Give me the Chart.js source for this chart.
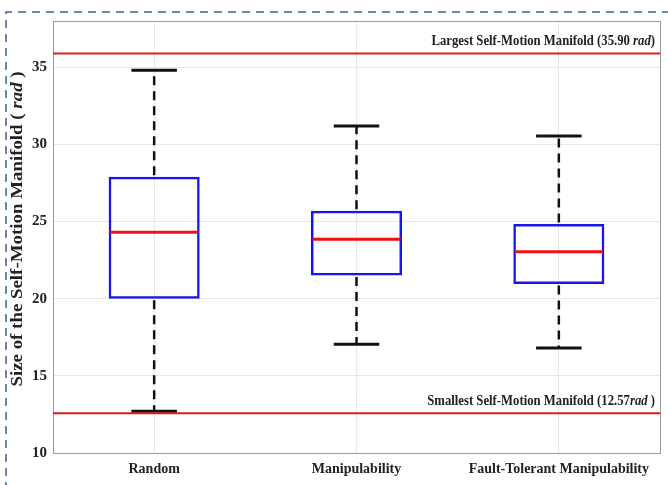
<!DOCTYPE html>
<html>
<head>
<meta charset="utf-8">
<script src="https://cdn.jsdelivr.net/npm/chart.js@4.4.0/dist/chart.umd.min.js"></script>
<style>
  html, body { margin: 0; padding: 0; background: #fff; }
  #wrap { width: 668px; height: 485px; }
</style>
</head>
<body>
<div id="wrap"><canvas id="boxChart" width="668" height="485"></canvas></div>
<script>
// box plot data
const categories = ['Random', 'Manipulability', 'Fault-Tolerant Manipulability'];
const whiskerLow = [12.7, 17.05, 16.8];
const q1 = [20.0, 21.5, 20.95];
const medians = [24.3, 23.85, 23.05];
const q3 = [27.9, 25.7, 24.85];
const whiskerHigh = [34.8, 31.2, 30.55];
const yTicks = [10, 15, 20, 25, 30, 35];
const largestSize = 35.90;
const smallestSize = 12.57;

const serif = '"Liberation Serif", "Times New Roman", serif';

// draws text made of [string, italic] parts, squeezed horizontally
function drawParts(ctx, parts, x, y, size, squeeze, align) {
  let w = 0;
  parts.forEach(p => {
    ctx.font = (p[1] ? 'italic ' : '') + 'bold ' + size + 'px ' + serif;
    w += ctx.measureText(p[0]).width;
  });
  let start = align === 'right' ? x - w * squeeze : x - w * squeeze / 2;
  ctx.save();
  ctx.translate(start, y);
  ctx.scale(squeeze, 1);
  let cx = 0;
  parts.forEach(p => {
    ctx.font = (p[1] ? 'italic ' : '') + 'bold ' + size + 'px ' + serif;
    ctx.fillText(p[0], cx, 0);
    cx += ctx.measureText(p[0]).width;
  });
  ctx.restore();
}

const boxExtras = {
  id: 'boxExtras',
  beforeDraw(chart) {
    const ctx = chart.ctx;
    ctx.save();
    ctx.fillStyle = '#fff';
    ctx.fillRect(0, 0, chart.width, chart.height);
    ctx.restore();
  },
  afterDraw(chart) {
    const ctx = chart.ctx;
    const area = chart.chartArea;
    const y = chart.scales.y;
    const meta = chart.getDatasetMeta(0);

    // frame
    ctx.save();
    ctx.strokeStyle = '#9a9a9a';
    ctx.lineWidth = 1;
    ctx.strokeRect(area.left + 0.5, area.top + 0.5, area.right - area.left, area.bottom - area.top);
    ctx.restore();

    // whiskers, caps and medians
    meta.data.forEach((bar, i) => {
      const x = bar.x;
      const capHalf = bar.width * 0.25;
      ctx.save();
      ctx.strokeStyle = '#111';
      ctx.lineWidth = 2.5;
      ctx.setLineDash([9, 6]);
      ctx.beginPath();
      ctx.moveTo(x, y.getPixelForValue(q3[i]) - 1.5);
      ctx.lineTo(x, y.getPixelForValue(whiskerHigh[i]));
      ctx.moveTo(x, y.getPixelForValue(q1[i]) + 1.5);
      ctx.lineTo(x, y.getPixelForValue(whiskerLow[i]));
      ctx.stroke();
      ctx.setLineDash([]);
      ctx.lineWidth = 3;
      ctx.beginPath();
      [whiskerHigh[i], whiskerLow[i]].forEach(v => {
        const py = y.getPixelForValue(v);
        ctx.moveTo(x - capHalf, py);
        ctx.lineTo(x + capHalf, py);
      });
      ctx.stroke();
      ctx.strokeStyle = '#f01010';
      ctx.beginPath();
      const my = y.getPixelForValue(medians[i]);
      ctx.moveTo(x - bar.width / 2 + 1.5, my);
      ctx.lineTo(x + bar.width / 2 - 1.5, my);
      ctx.stroke();
      ctx.restore();
    });

    // reference lines for the largest and smallest manifold
    ctx.save();
    ctx.strokeStyle = '#e41a1a';
    ctx.lineWidth = 2;
    ctx.beginPath();
    [largestSize, smallestSize].forEach(v => {
      const py = y.getPixelForValue(v);
      ctx.moveTo(area.left, py);
      ctx.lineTo(area.right, py);
    });
    ctx.stroke();
    ctx.fillStyle = '#222';
    ctx.textBaseline = 'alphabetic';
    drawParts(ctx, [['Largest Self-Motion Manifold (' + largestSize.toFixed(2) + ' ', false], ['rad', true], [')', false]],
      area.right - 5, y.getPixelForValue(largestSize) - 8, 15.5, 0.82, 'right');
    drawParts(ctx, [['Smallest Self-Motion Manifold (' + smallestSize.toFixed(2), false], ['rad', true], [' )', false]],
      area.right - 5, y.getPixelForValue(smallestSize) - 8, 15.5, 0.82, 'right');

    // y axis title with italic unit
    ctx.translate(18, (area.top + area.bottom) / 2 - 8);
    ctx.rotate(-Math.PI / 2);
    ctx.textBaseline = 'middle';
    drawParts(ctx, [['Size of the Self-Motion Manifold ( ', false], ['rad', true], [' )', false]], 0, 0, 16, 1.18, 'center');
    ctx.restore();

    // dashed page border
    ctx.save();
    ctx.strokeStyle = '#3a5f96';
    ctx.lineWidth = 1.5;
    ctx.setLineDash([8, 6]);
    ctx.beginPath();
    ctx.moveTo(6, chart.height + 5);
    ctx.lineTo(6, 12);
    ctx.lineTo(chart.width + 5, 12);
    ctx.stroke();
    ctx.restore();
  }
};

const ctx = document.getElementById('boxChart').getContext('2d');
const boxChart = new Chart(ctx, {
  type: 'bar',
  data: {
    labels: categories,
    datasets: [{
      label: 'IQR',
      data: categories.map((c, i) => [q1[i], q3[i]]),
      backgroundColor: 'rgba(0,0,0,0)',
      borderColor: '#1616ee',
      borderWidth: 2.5,
      borderSkipped: false,
      barPercentage: 0.45,
      categoryPercentage: 1
    }]
  },
  options: {
    responsive: false,
    animation: false,
    layout: { padding: { top: 21, right: 8, left: 0, bottom: 0 } },
    plugins: {
      legend: { display: false },
      tooltip: { enabled: false }
    },
    scales: {
      x: {
        grid: { offset: false, color: '#e6e6e6', tickLength: 0 },
        border: { display: false },
        ticks: { color: '#222', font: { family: serif, size: 14, weight: 'bold' }, padding: 8 },
        afterFit(axis) { axis.height = 32; }
      },
      y: {
        min: 10,
        max: 38,
        afterBuildTicks(axis) { axis.ticks = yTicks.map(v => ({ value: v })); },
        grid: { color: '#e6e6e6', tickLength: 0 },
        border: { display: false },
        ticks: { color: '#222', font: { family: serif, size: 15, weight: 'bold' }, padding: 6 },
        afterFit(axis) { axis.width = 53; }
      }
    }
  },
  plugins: [boxExtras]
});
</script>
</body>
</html>
